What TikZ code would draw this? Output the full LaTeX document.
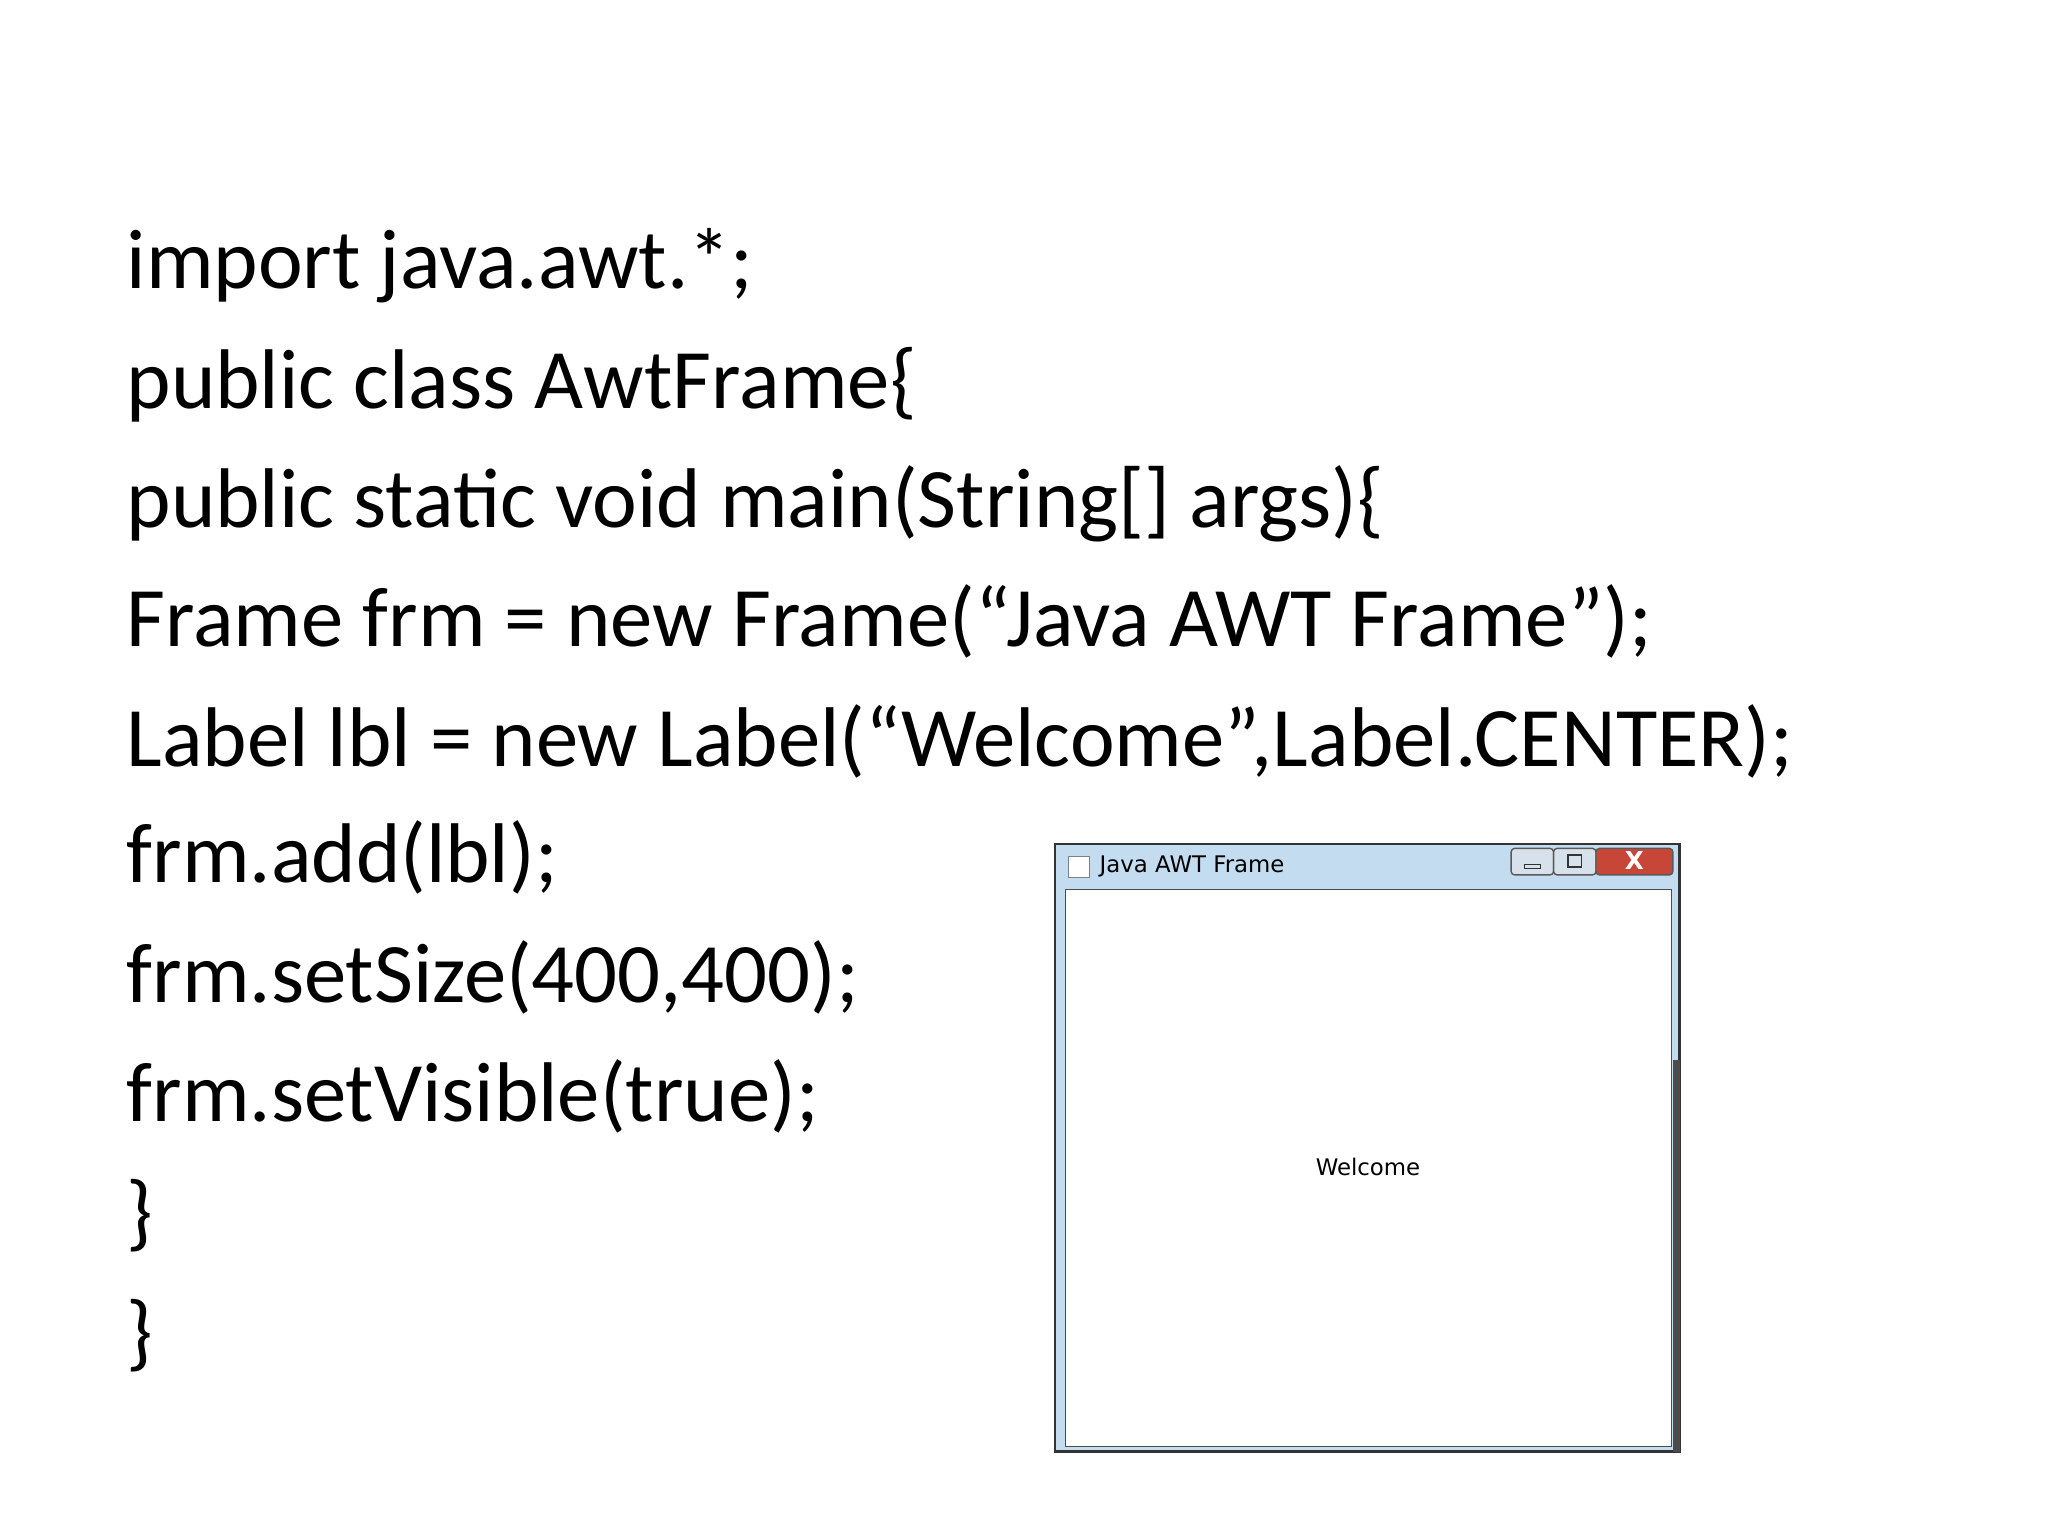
\documentclass[tikz,border=0pt]{standalone}
\usepackage{fontspec}
\setmainfont{Carlito}
\newfontfamily\winfont{DejaVu Sans}
\definecolor{titleblue}{RGB}{196,220,240}
\definecolor{closered}{RGB}{200,70,55}
\definecolor{btngray}{RGB}{215,225,235}
\tikzset{
  codeline/.style={anchor=base west, inner sep=0pt, font=\fontsize{24.1}{29}\selectfont},
  winbtn/.style={draw=gray!70!black, rounded corners=1pt},
}
\begin{document}
\begin{tikzpicture}[x=0.013256cm,y=-0.013256cm]
\useasboundingbox (0,0) rectangle (1545,1159);
% code lines
\node[codeline] (l1) at (95,218) {import java.awt.*;};
\node[codeline] (l2) at (95,308) {public class AwtFrame\{};
\node[codeline] (l3) at (95,398) {public static void main(String[] args)\{};
\node[codeline] (l4) at (95,488) {Frame frm = new Frame(“Java AWT Frame”);};
\node[codeline] (l5) at (95,578) {Label lbl = new Label(“Welcome”,Label.CENTER);};
\node[codeline] (l6) at (95,666) {frm.add(lbl);};
\node[codeline] (l7) at (95,756) {frm.setSize(400,400);};
\node[codeline] (l8) at (95,846) {frm.setVisible(true);};
\node[codeline] (l9) at (95,936) {\}};
\node[codeline] (l10) at (95,1026) {\}};

% window
\fill[titleblue] (796,637) rectangle (1267,1095);
\draw[black!80, line width=0.6pt] (796,637) rectangle (1267,1095);
\fill[white] (804,671) rectangle (1261,1091);
\draw[black!70] (804,671) rectangle (1261,1091);
\fill[black!70] (1262,800) rectangle (1267,1095);
\node[draw=gray, fill=white, minimum size=6pt, inner sep=0pt] (icon) at (814,654) {};
\node[anchor=west, font=\winfont\fontsize{6.5}{8}\selectfont, inner sep=0pt] (title) at (829,654) {Java AWT Frame};
\draw[winbtn, fill=btngray] (1140,640) rectangle (1172,660);
\draw[winbtn, fill=btngray] (1172,640) rectangle (1204,660);
\draw[winbtn, fill=closered] (1204,640) rectangle (1262,660);
\draw[gray!40!black] (1150,652) rectangle (1162,655);
\draw[gray!40!black] (1183,645) rectangle (1193,654);
\node[font=\winfont\bfseries\fontsize{7}{8}\selectfont, text=white, inner sep=0pt] (xbtn) at (1233,649) {X};
\node[font=\winfont\fontsize{6.5}{8}\selectfont, inner sep=0pt] (welcome) at (1032,880) {Welcome};
\end{tikzpicture}
\end{document}
